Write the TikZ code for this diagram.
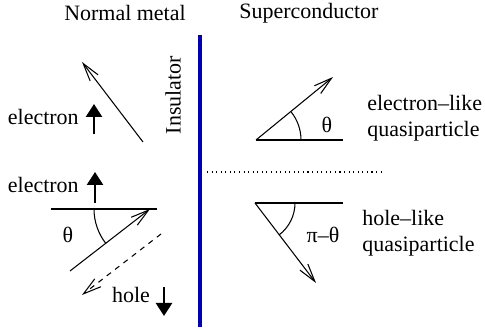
\documentclass[tikz,border=0pt]{standalone}
\usepackage{fontspec}
\setmainfont{Liberation Serif}
\usepackage{tikz}
\usetikzlibrary{arrows.meta}
\definecolor{insublue}{HTML}{0000B0}

\tikzset{
  path/.style={line width=0.6pt,-{Straight Barb[length=0.36cm,width=0.2cm,line width=0.6pt]}},
  spin/.style={line width=1.5pt,-{Triangle[length=0.26cm,width=0.32cm]}},
  lbl/.style={font=\fontsize{12.5}{14.5}\selectfont,inner sep=0pt},
}

\begin{document}
\begin{tikzpicture}[x=0.02cm,y=0.02cm]
    \useasboundingbox (0,0) rectangle (485,330);
    % headings and insulator
    \node[lbl] (nm) at (125,317) {Normal metal};
    \node[lbl] (sc) at (309,317) {Superconductor};
    \draw[insublue,line width=2pt] (200,295) -- (200,3);
    \node[lbl,rotate=90] (ins) at (173,235) {Insulator};
    \draw[dotted,line width=0.6pt] (207,158) -- (382,158);
    % incoming electron
    \coordinate (inA) at (143,188);
    \coordinate (inB) at (82,268);
    \draw[path] (inA) -- (inB);
    \node[lbl,anchor=east] (e1) at (79,213) {electron};
    \coordinate (s1a) at (94,196);
    \coordinate (s1b) at (94,226);
    \draw[spin] (s1a) -- (s1b);
    % reflected electron and hole
    \node[lbl,anchor=east] (e2) at (79,145) {electron};
    \coordinate (s2a) at (95,127);
    \coordinate (s2b) at (95,158);
    \draw[spin] (s2a) -- (s2b);
    \coordinate (lA) at (51,121);
    \coordinate (lB) at (157,121);
    \draw[line width=0.6pt] (lA) -- (lB);
    \coordinate (eA) at (70,59);
    \coordinate (eB) at (150,121);
    \draw[path] (eA) -- (eB);
    \draw[line width=0.6pt] (94,121) arc (180:218:56);
    \node[lbl] (th1) at (68,95) {θ};
    \coordinate (hA) at (161,96);
    \coordinate (hB) at (82,35);
    \draw[path,dashed] (hA) -- (hB);
    \node[lbl] (h1) at (131,35) {hole};
    \coordinate (s3a) at (164,43);
    \coordinate (s3b) at (164,14);
    \draw[spin] (s3a) -- (s3b);
    % electron-like quasiparticle
    \coordinate (qA) at (256,190);
    \coordinate (qB) at (333,253);
    \coordinate (qC) at (343,190);
    \draw[line width=0.6pt] (qA) -- (qC);
    \draw[path] (qA) -- (qB);
    \draw[line width=0.6pt] (301,190) arc (0:39:45);
    \node[lbl] (th2) at (327,205) {θ};
    \node[lbl,anchor=west,align=left] (el) at (367,212) {electron–like\\quasiparticle};
    % hole-like quasiparticle
    \coordinate (pA) at (255,127);
    \coordinate (pB) at (316,47);
    \coordinate (pC) at (343,127);
    \draw[line width=0.6pt] (pA) -- (pC);
    \draw[path] (pA) -- (pB);
    \draw[line width=0.6pt] (295,127) arc (0:-53:40);
    \node[lbl] (th3) at (323,95) {π–θ};
    \node[lbl,anchor=west,align=left] (hl) at (362,97) {hole–like\\quasiparticle};
\end{tikzpicture}
\end{document}
